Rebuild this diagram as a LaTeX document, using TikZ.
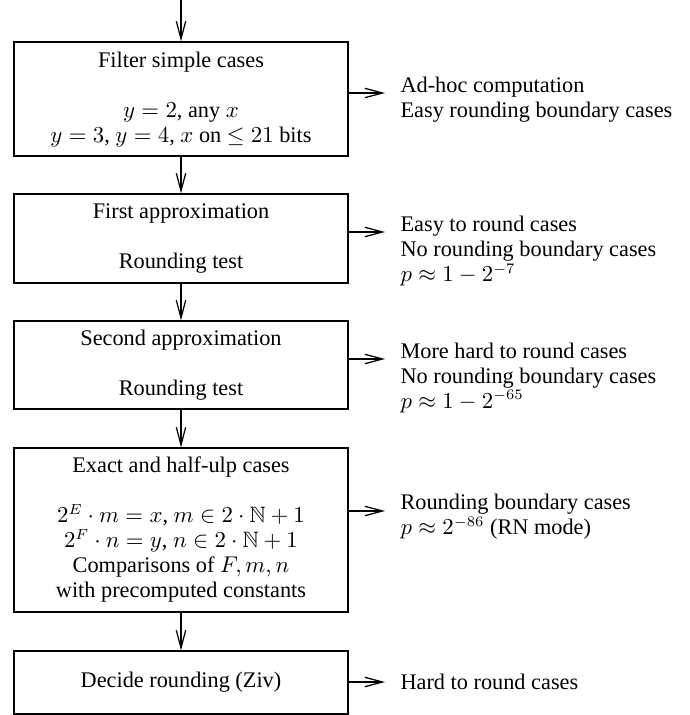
\documentclass[tikz,border=0pt]{standalone}
\usepackage[no-math]{fontspec}
\setmainfont{Liberation Serif}
\usepackage{amssymb}
\usetikzlibrary{arrows.meta}

\begin{document}
\begin{tikzpicture}[x=0.48pt,y=-0.48pt,line width=0.6pt,
    font=\fontsize{10.7pt}{12pt}\selectfont,
    >={Straight Barb[length=8.5pt,width=4.5pt]},
    box/.style={draw,align=center,minimum width=160.3pt,inner sep=0pt},
    outtext/.style={anchor=west,align=left}]
  \useasboundingbox (0,0) rectangle (689,715);

  \node[box,minimum height=54.7pt](Filter) at (181,99) {Filter simple cases\\[12pt]
    $y=2$, any $x$\\
    $y=3$, $y=4$, $x$ on $\leq 21$ bits};
  \node[box,minimum height=42.7pt](Approx) at (181,238.5) {First approximation\\[12pt]
    Rounding test};
  \node[box,minimum height=42.2pt](Approxd) at (181,365) {Second approximation\\[12pt]
    Rounding test};
  \node[box,minimum height=78.7pt](Exact) at (181,530) {Exact and half-ulp cases\\[12pt]
    $2^{E}\cdot m=x$, $m\in 2\cdot\mathbb{N}+1$\\
    $2^{F}\cdot n=y$, $n\in 2\cdot\mathbb{N}+1$\\
    Comparisons of $F,m,n$\\
    with precomputed constants};
  \node[box,minimum height=30.2pt](Ziv) at (181,682.5) {Decide rounding (Ziv)};

  \node[outtext](FilterOut) at (393,99.5) {Ad-hoc computation\\
    Easy rounding boundary cases};
  \node[outtext](ApproxOut) at (393,251) {Easy to round cases\\
    No rounding boundary cases\\
    $p\approx 1-2^{-7}$};
  \node[outtext](ApproxdOut) at (393,377.5) {More hard to round cases\\
    No rounding boundary cases\\
    $p\approx 1-2^{-65}$};
  \node[outtext](ExactOut) at (393,517) {Rounding boundary cases\\
    $p\approx 2^{-86}$ (RN mode)};
  \node[outtext](ZivOut) at (393,682) {Hard to round cases};

  \coordinate (Start) at (181,0);
  \coordinate (FilterTip) at (385,93);
  \coordinate (ApproxTip) at (385,232);
  \coordinate (ApproxdTip) at (385,359);
  \coordinate (ExactTip) at (385,511);
  \coordinate (ZivTip) at (385,682);

  \draw[->] (Start) -- (Filter);
  \draw[->] (Filter) -- (Approx);
  \draw[->] (Approx) -- (Approxd);
  \draw[->] (Approxd) -- (Exact);
  \draw[->] (Exact) -- (Ziv);
  \draw[->] (Filter.east |- FilterTip) -- (FilterTip);
  \draw[->] (Approx.east |- ApproxTip) -- (ApproxTip);
  \draw[->] (Approxd.east |- ApproxdTip) -- (ApproxdTip);
  \draw[->] (Exact.east |- ExactTip) -- (ExactTip);
  \draw[->] (Ziv.east |- ZivTip) -- (ZivTip);
\end{tikzpicture}
\end{document}
